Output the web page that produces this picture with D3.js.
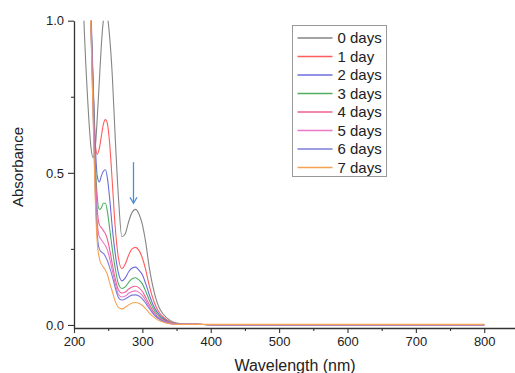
<!DOCTYPE html>
<html>
<head>
<meta charset="utf-8">
<script src="https://cdn.jsdelivr.net/npm/d3@7"></script>
<style>
  html, body { margin: 0; padding: 0; background: #fff; }
  svg { display: block; font-family: "Liberation Sans", Arial, sans-serif; }
</style>
</head>
<body>
<div id="chart"></div>
<script>
// ==================== donnees ==================== //
const wavelengths = [205, 210, 215, 220, 225, 228, 231, 234, 237, 240, 243, 246, 249, 252, 256, 260, 265, 270, 275, 280, 285, 290, 295, 300, 305, 310, 315, 320, 325, 330, 340, 350, 360, 380, 400, 450, 500, 550, 600, 650, 700, 750, 800];

const day0 = [1.6, 1.3, 0.97, 0.74, 0.58, 0.55, 0.58, 0.68, 0.8, 0.92, 1.0, 1.02, 1.01, 0.95, 0.82, 0.63, 0.42, 0.29, 0.3, 0.34, 0.37, 0.38, 0.365, 0.33, 0.27, 0.19, 0.13, 0.085, 0.055, 0.037, 0.016, 0.006, 0.003, 0.002, 0.001, 0.001, 0.001, 0.001, 0.001, 0.001, 0.001, 0.001, 0.001];
const day1 = [2.0, 1.8, 1.5, 1.25, 0.98, 0.78, 0.6, 0.56, 0.58, 0.62, 0.66, 0.675, 0.66, 0.6, 0.47, 0.33, 0.22, 0.185, 0.2, 0.23, 0.25, 0.255, 0.245, 0.22, 0.18, 0.13, 0.09, 0.06, 0.04, 0.027, 0.011, 0.004, 0.002, 0.002, 0.001, 0.001, 0.001, 0.001, 0.001, 0.001, 0.001, 0.001, 0.001];
const day2 = [2.0, 1.8, 1.55, 1.3, 1.02, 0.8, 0.6, 0.49, 0.47, 0.49, 0.505, 0.51, 0.48, 0.42, 0.32, 0.24, 0.17, 0.145, 0.155, 0.175, 0.187, 0.19, 0.18, 0.165, 0.135, 0.1, 0.07, 0.048, 0.033, 0.022, 0.009, 0.004, 0.002, 0.002, 0.001, 0.001, 0.001, 0.001, 0.001, 0.001, 0.001, 0.001, 0.001];
const day3 = [2.0, 1.8, 1.55, 1.3, 1.0, 0.78, 0.55, 0.42, 0.38, 0.385, 0.4, 0.4, 0.37, 0.32, 0.25, 0.19, 0.135, 0.12, 0.125, 0.14, 0.152, 0.155, 0.148, 0.135, 0.11, 0.082, 0.058, 0.04, 0.028, 0.019, 0.008, 0.003, 0.002, 0.002, 0.001, 0.001, 0.001, 0.001, 0.001, 0.001, 0.001, 0.001, 0.001];
const day4 = [2.0, 1.8, 1.55, 1.3, 0.98, 0.75, 0.52, 0.38, 0.33, 0.32, 0.31, 0.3, 0.28, 0.25, 0.2, 0.155, 0.115, 0.105, 0.108, 0.118, 0.125, 0.127, 0.122, 0.11, 0.09, 0.068, 0.048, 0.033, 0.023, 0.016, 0.007, 0.003, 0.002, 0.002, 0.001, 0.001, 0.001, 0.001, 0.001, 0.001, 0.001, 0.001, 0.001];
const day5 = [2.0, 1.8, 1.55, 1.3, 0.97, 0.72, 0.48, 0.34, 0.29, 0.28, 0.27, 0.26, 0.245, 0.22, 0.18, 0.14, 0.1, 0.092, 0.095, 0.104, 0.11, 0.112, 0.107, 0.097, 0.08, 0.06, 0.043, 0.03, 0.021, 0.014, 0.006, 0.003, 0.002, 0.002, 0.001, 0.001, 0.001, 0.001, 0.001, 0.001, 0.001, 0.001, 0.001];
const day6 = [2.0, 1.8, 1.55, 1.3, 0.96, 0.7, 0.45, 0.3, 0.25, 0.24, 0.235, 0.225, 0.21, 0.19, 0.16, 0.125, 0.09, 0.082, 0.085, 0.093, 0.098, 0.099, 0.095, 0.086, 0.071, 0.054, 0.039, 0.027, 0.019, 0.013, 0.005, 0.002, 0.002, 0.002, 0.001, 0.001, 0.001, 0.001, 0.001, 0.001, 0.001, 0.001, 0.001];
const day7 = [2.0, 1.8, 1.55, 1.3, 0.95, 0.68, 0.42, 0.27, 0.22, 0.2, 0.19, 0.18, 0.165, 0.14, 0.11, 0.08, 0.058, 0.053, 0.058, 0.066, 0.072, 0.074, 0.071, 0.064, 0.053, 0.04, 0.029, 0.02, 0.014, 0.01, 0.004, 0.002, 0.002, 0.002, 0.002, 0.002, 0.002, 0.002, 0.002, 0.002, 0.002, 0.002, 0.002];

const seriesNames = ["0 days", "1 day", "2 days", "3 days", "4 days", "5 days", "6 days", "7 days"];
const seriesValues = [day0, day1, day2, day3, day4, day5, day6, day7];
const seriesColors = ["#858585", "#ff5c5c", "#6c6cdc", "#4fae62", "#ee6096", "#ea78c4", "#7c7cd8", "#f5a255"];

const xTicks = [200, 300, 400, 500, 600, 700, 800];
const xMinorTicks = [250, 350, 450, 550, 650, 750];
const yTicks = [0, 0.5, 1.0];
const yMinorTicks = [0.25, 0.75];

// fleche (annotation)
const arrowX = 287;
const arrowFrom = 0.535;
const arrowTo = 0.40;

// ==================== dimensions ==================== //
const width = 515;
const height = 373;

const svg = d3.select("#chart")
    .append("svg")
    .attr("width", width)
    .attr("height", height);

const x = d3.scaleLinear().domain([200, 845]).range([74, 515]);
const y = d3.scaleLinear().domain([-0.01, 1.0]).range([328, 20.7]);

// zone de clip pour couper au-dessus de 1.0
svg.append("clipPath")
    .attr("id", "plotClip")
    .append("rect")
    .attr("x", x(200))
    .attr("y", y(1.0))
    .attr("width", x(845) - x(200))
    .attr("height", y(-0.01) - y(1.0));

// ==================== courbes ==================== //
const line = d3.line()
    .x((d, i) => x(wavelengths[i]))
    .y(d => y(d))
    .curve(d3.curveMonotoneX);

const plot = svg.append("g").attr("clip-path", "url(#plotClip)");

seriesValues.forEach((vals, i) => {
    plot.append("path")
        .datum(vals)
        .attr("d", line)
        .attr("fill", "none")
        .attr("stroke", seriesColors[i])
        .attr("stroke-width", 1.1);
});

// ==================== axes ==================== //
const xAxis = svg.append("g")
    .attr("transform", `translate(0,${y(-0.01)})`)
    .call(d3.axisBottom(x).tickValues(xTicks).tickFormat(d3.format("d")).tickSize(5).tickSizeOuter(0).tickPadding(4));

svg.append("g")
    .attr("transform", `translate(0,${y(-0.01)})`)
    .call(d3.axisBottom(x).tickValues(xMinorTicks).tickFormat("").tickSize(3).tickSizeOuter(0))
    .select(".domain").remove();

const yAxis = svg.append("g")
    .attr("transform", `translate(${x(200)},0)`)
    .call(d3.axisLeft(y).tickValues(yTicks).tickFormat(d3.format(".1f")).tickSize(6).tickSizeOuter(0).tickPadding(4));

svg.append("g")
    .attr("transform", `translate(${x(200)},0)`)
    .call(d3.axisLeft(y).tickValues(yMinorTicks).tickFormat("").tickSize(3).tickSizeOuter(0))
    .select(".domain").remove();

svg.selectAll(".domain").attr("stroke", "#333").attr("stroke-width", 1.3);
svg.selectAll(".tick line").attr("stroke", "#333").attr("stroke-width", 1.1);
svg.selectAll(".tick text")
    .attr("font-family", "'Liberation Sans', Arial, sans-serif")
    .attr("font-size", 13)
    .attr("fill", "#222");

// titres des axes
svg.append("text")
    .attr("x", 295)
    .attr("y", 371)
    .attr("text-anchor", "middle")
    .attr("font-size", 16)
    .attr("fill", "#222")
    .text("Wavelength (nm)");

svg.append("text")
    .attr("transform", `translate(23,${167}) rotate(-90)`)
    .attr("text-anchor", "middle")
    .attr("font-size", 15)
    .attr("fill", "#222")
    .text("Absorbance");

// ==================== fleche ==================== //
const arrowColor = "#4a8fd6";
svg.append("line")
    .attr("x1", x(arrowX)).attr("x2", x(arrowX))
    .attr("y1", y(arrowFrom)).attr("y2", y(arrowTo))
    .attr("stroke", arrowColor)
    .attr("stroke-width", 1.3);

svg.append("path")
    .attr("d", `M${x(arrowX) - 3.5},${y(arrowTo) - 6} L${x(arrowX)},${y(arrowTo)} L${x(arrowX) + 3.5},${y(arrowTo) - 6}`)
    .attr("fill", "none")
    .attr("stroke", arrowColor)
    .attr("stroke-width", 1.3);

// ==================== legende ==================== //
const legend = svg.append("g").attr("transform", "translate(292.5,25.5)");

legend.append("rect")
    .attr("width", 94)
    .attr("height", 151)
    .attr("fill", "#fff")
    .attr("stroke", "#999")
    .attr("stroke-width", 1);

seriesNames.forEach((name, i) => {
    const rowY = 12.5 + i * 18.5;
    legend.append("line")
        .attr("x1", 5).attr("x2", 40)
        .attr("y1", rowY).attr("y2", rowY)
        .attr("stroke", seriesColors[i])
        .attr("stroke-width", 1.3);
    legend.append("text")
        .attr("x", 45)
        .attr("y", rowY + 5)
        .attr("font-size", 15)
        .attr("fill", "#222")
        .text(name);
});
</script>
</body>
</html>
